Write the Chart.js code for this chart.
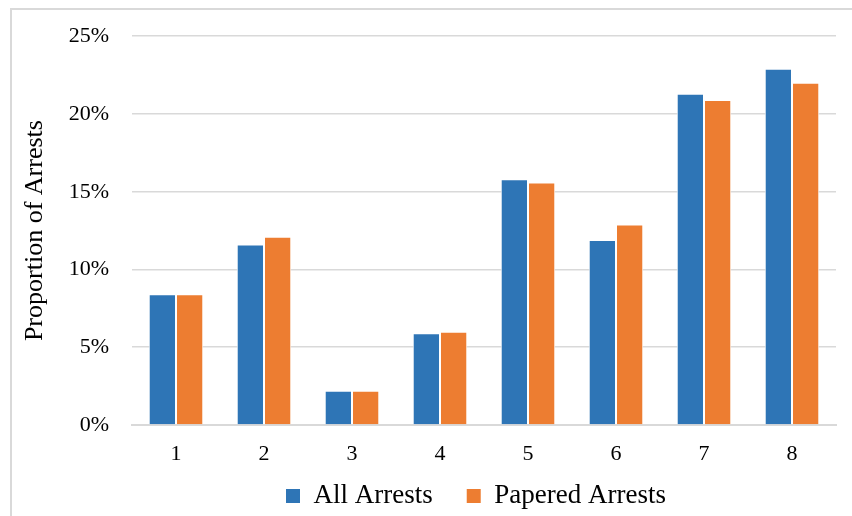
<!DOCTYPE html>
<html>
<head>
<meta charset="utf-8">
<script src="https://cdn.jsdelivr.net/npm/chart.js@4.4.1/dist/chart.umd.min.js"></script>
<style>
  html, body { margin: 0; padding: 0; background: #fff; }
  #wrap { position: relative; width: 852px; height: 516px; overflow: hidden; }
  #frame { position: absolute; left: 10px; top: 8px; width: 900px; height: 600px;
           border-left: 2px solid #d9d9d9; border-top: 2px solid #d9d9d9; box-sizing: border-box; }
  canvas { position: absolute; left: 0; top: 0; }
</style>
</head>
<body>
<div id="wrap">
  <div id="frame"></div>
  <canvas id="c" width="852" height="516"></canvas>
</div>
<script>
// District categories and the share of arrests in each
const categories = ['1', '2', '3', '4', '5', '6', '7', '8'];
const allArrests = [8.4, 11.6, 2.2, 5.9, 15.8, 11.9, 21.3, 22.9];
const paperedArrests = [8.4, 12.1, 2.2, 6.0, 15.6, 12.9, 20.9, 22.0];
const seriesNames = ['All Arrests', 'Papered Arrests'];
const yTicks = [0, 5, 10, 15, 20, 25];

const SERIF = '"Liberation Serif", "Times New Roman", serif';
const LEGEND_PAD = 34;
const LEGEND_FONT = 27;

// Place the legend row under the plot: first swatch at x=286, row centred at y=496
const legendPlace = {
  id: 'legendPlace',
  afterLayout(chart) {
    const lg = chart.legend;
    if (!lg || !lg.lineWidths) return;
    const start = (lg.left + LEGEND_PAD + lg.right - lg.lineWidths[0]) / 2;
    const dx = 286 - start;
    lg.left += dx; lg.right += dx;
    lg.top = 496 - LEGEND_FONT / 2 - LEGEND_PAD;
    lg.bottom = chart.height;
    lg.height = lg.bottom - lg.top;
  }
};

function draw() {
  new Chart(document.getElementById('c'), {
    type: 'bar',
    data: {
      labels: categories,
      datasets: [
        { label: seriesNames[0], data: allArrests, backgroundColor: '#2e75b6',
          borderColor: '#ffffff', borderWidth: 1 },
        { label: seriesNames[1], data: paperedArrests, backgroundColor: '#ed7d31',
          borderColor: '#ffffff', borderWidth: 1 }
      ]
    },
    options: {
      responsive: false,
      animation: false,
      devicePixelRatio: 1,
      layout: { padding: { left: 19.5, right: 16, top: 34, bottom: 0 } },
      datasets: { bar: { categoryPercentage: 0.62, barPercentage: 1.0 } },
      scales: {
        x: {
          afterFit: (s) => { s.height = 44; },
          grid: { display: false, drawTicks: false },
          border: { display: true, color: '#d9d9d9', width: 2 },
          ticks: { color: '#000', font: { family: SERIF, size: 22 }, padding: 16 }
        },
        y: {
          min: 0, max: 25,
          afterBuildTicks: (s) => { s.ticks = yTicks.map(v => ({ value: v })); },
          afterFit: (s) => { s.width = 112.5; },
          grid: { color: '#d9d9d9', lineWidth: 1.5, drawTicks: false },
          border: { display: false },
          ticks: { color: '#000', font: { family: SERIF, size: 22 }, padding: 23,
                   callback: (v) => v + '%' },
          title: { display: true, text: 'Proportion of Arrests', color: '#000',
                   font: { family: SERIF, size: 26 }, padding: { top: 0, bottom: 0 } }
        }
      },
      plugins: {
        tooltip: { enabled: false },
        legend: {
          position: 'bottom',
          maxHeight: 47,
          labels: {
            color: '#000',
            font: { family: SERIF, size: LEGEND_FONT },
            boxWidth: 14, boxHeight: 14, padding: LEGEND_PAD,
            generateLabels: (chart) => Chart.defaults.plugins.legend.labels.generateLabels(chart)
              .map(l => Object.assign(l, { lineWidth: 0, strokeStyle: 'rgba(0,0,0,0)' }))
          }
        }
      }
    },
    plugins: [legendPlace]
  });
}

// Make sure the serif face is ready before the canvas text is drawn
Promise.all([
  document.fonts.load('22px "Liberation Serif"'),
  document.fonts.load('27px "Liberation Serif"')
]).then(draw, draw);
</script>
</body>
</html>
